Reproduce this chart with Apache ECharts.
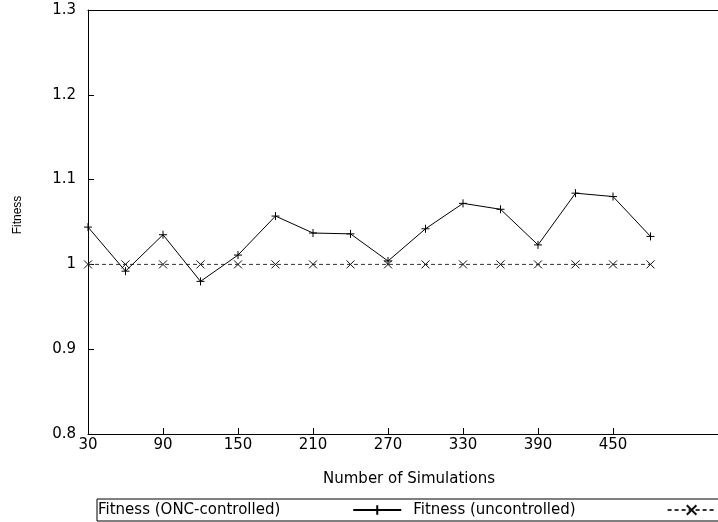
<!DOCTYPE html>
<html>
<head>
<meta charset="utf-8">
<script src="https://cdn.jsdelivr.net/npm/echarts@6/dist/echarts.min.js"></script>
<style>
html,body{margin:0;padding:0;background:#fff;}
#chart{width:718px;height:522px;}
</style>
</head>
<body>
<div id="chart"></div>
<script>
// ---- data ----
const simulations = [30, 60, 90, 120, 150, 180, 210, 240, 270, 300, 330, 360, 390, 420, 450, 480];
const fitnessONC = [1.044, 0.992, 1.035, 0.980, 1.011, 1.057, 1.037, 1.036, 1.004, 1.042, 1.072, 1.065, 1.023, 1.084, 1.080, 1.033];
const fitnessUncontrolled = [1, 1, 1, 1, 1, 1, 1, 1, 1, 1, 1, 1, 1, 1, 1, 1];
const xTickValues = [30, 90, 150, 210, 270, 330, 390, 450];
const yTickValues = [0.8, 0.9, 1, 1.1, 1.2, 1.3];
const seriesNames = ['Fitness (ONC-controlled)', 'Fitness (uncontrolled)'];

const FONT = 'DejaVu Sans';
const chart = echarts.init(document.getElementById('chart'), null, {renderer: 'canvas'});

const plusSym = 'path://M0,4L8,4M4,0L4,8';
const crossSym = 'path://M0,0L8,8M8,0L0,8';
const X_MIN = 30, X_MAX = 534;

chart.setOption({
  animation: false,
  backgroundColor: '#fff',
  textStyle: {fontFamily: FONT, color: '#000'},
  grid: {
    left: 88, top: 10, right: 0, height: 424,
    show: false
  },
  legend: {
    left: 97, top: 499, width: 720,
    orient: 'horizontal',
    align: 'right',
    itemWidth: 48, itemHeight: 12,
    itemGap: 11,
    padding: [3, 30, 3, 1],
    borderColor: '#000', borderWidth: 1,
    textStyle: {fontFamily: FONT, fontSize: 15, color: '#000', lineHeight: 16},
    data: [
      {name: seriesNames[0], textStyle: {padding: [0, 68, 0, 0]}},
      {name: seriesNames[1], textStyle: {padding: [0, 87, 0, 0]}}
    ]
  },
  xAxis: [{
    type: 'value',
    min: X_MIN, max: X_MAX, interval: 60,
    name: 'Number of Simulations',
    nameLocation: 'middle', nameGap: 38,
    nameTextStyle: {fontFamily: FONT, fontSize: 15, color: '#000', padding: [0, 0, 0, 12]},
    axisLine: {show: true, lineStyle: {color: '#000', width: 1}},
    axisTick: {show: true, inside: true, length: 6, lineStyle: {color: '#000'}, customValues: xTickValues},
    axisLabel: {fontFamily: FONT, fontSize: 15, color: '#000', margin: 4, customValues: xTickValues},
    splitLine: {show: false}
  }, {
    type: 'value',
    position: 'top',
    min: X_MIN, max: X_MAX, interval: 60,
    axisLine: {show: true, lineStyle: {color: '#000', width: 1}},
    axisTick: {show: false},
    axisLabel: {show: false},
    splitLine: {show: false}
  }],
  yAxis: {
    type: 'value',
    min: 0.8, max: 1.3, interval: 0.1,
    name: 'Fitness',
    nameLocation: 'middle', nameGap: 64, nameRotate: 90,
    nameTextStyle: {fontFamily: 'Liberation Sans', fontSize: 12, color: '#000', padding: [0, 0, 0, 14]},
    axisLine: {show: true, lineStyle: {color: '#000', width: 1}},
    axisTick: {show: true, inside: true, length: 6, lineStyle: {color: '#000'}, customValues: yTickValues},
    axisLabel: {fontFamily: FONT, fontSize: 15, color: '#000', margin: 12, customValues: yTickValues,
      formatter: v => String(Math.round(v * 10) / 10)},
    splitLine: {show: false}
  },
  series: [
    {
      name: seriesNames[0],
      type: 'line',
      data: simulations.map((x, i) => [x, fitnessONC[i]]),
      symbol: plusSym, symbolSize: 8, showAllSymbol: true,
      lineStyle: {color: '#000', width: 1},
      itemStyle: {color: '#000', borderColor: '#000', borderWidth: 1},
      z: 3
    },
    {
      name: seriesNames[1],
      type: 'line',
      data: simulations.map((x, i) => [x, fitnessUncontrolled[i]]),
      symbol: crossSym, symbolSize: 8, showAllSymbol: true,
      lineStyle: {color: '#333', width: 1, type: [4, 3]},
      itemStyle: {color: '#111', borderColor: '#111', borderWidth: 1},
      z: 2
    }
  ]
});
</script>
</body>
</html>
